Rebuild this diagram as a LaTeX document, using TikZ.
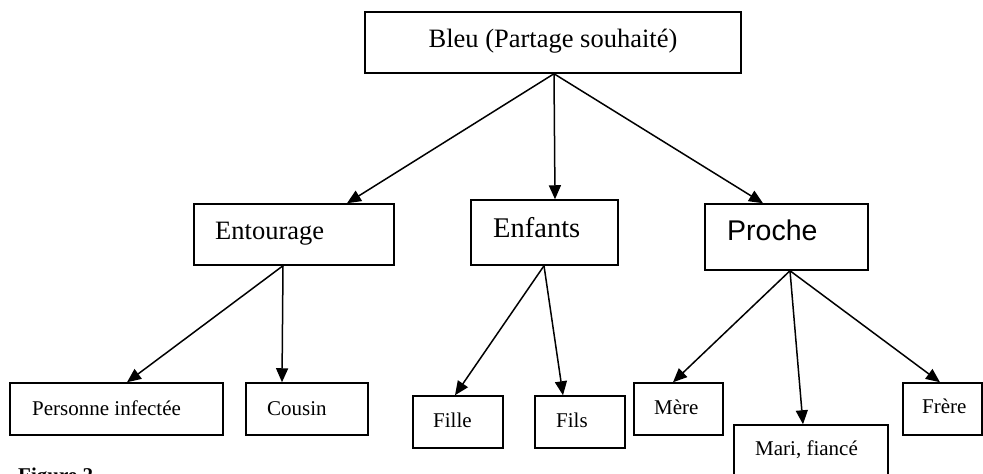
\documentclass[tikz,border=0pt]{standalone}
\usepackage{fontspec}
\setmainfont{Liberation Serif}
\newfontfamily\arialfont{Liberation Sans}
\usetikzlibrary{arrows.meta}
\tikzset{
  box/.style={draw=black, line width=1.5pt, fill=white, rectangle, inner sep=0pt},
  lblsmall/.style={anchor=base west, inner sep=0pt, font=\fontsize{21}{25}\selectfont},
  lblbig/.style={anchor=base west, inner sep=0pt, font=\fontsize{26.5}{31}\selectfont},
  lblhuge/.style={anchor=base west, inner sep=0pt, font=\fontsize{28.5}{33}\selectfont},
  arr/.style={line width=1.5pt, -{Triangle[length=14pt,width=12pt]}},
}
\begin{document}
\begin{tikzpicture}[x=1pt,y=-1pt]
\useasboundingbox (0,0) rectangle (983,474);
\clip (0,0) rectangle (983,474);
\fill[white] (0,0) rectangle (983,474);
% top box
\node[box, minimum width=376pt, minimum height=61pt] (bleu) at (553,42.5) {};
\node[anchor=base, inner sep=0pt, font=\fontsize{26.5}{31}\selectfont] (bleut) at (553,47) {Bleu (Partage souhaité)};
% middle boxes
\node[box, minimum width=200pt, minimum height=61pt] (ent) at (294,234.5) {};
\node[lblbig] (entt) at (215,239) {Entourage};
\node[box, minimum width=147pt, minimum height=65pt] (enf) at (544.5,232.5) {};
\node[lblhuge] (enft) at (493,237) {Enfants};
\node[box, minimum width=163pt, minimum height=66pt] (pro) at (786.5,237) {};
\node[lblhuge, font=\arialfont\fontsize{28.5}{33}\selectfont] (prot) at (727,240) {Proche};
% bottom boxes
\node[box, minimum width=213pt, minimum height=52pt] (per) at (116.5,409) {};
\node[lblsmall] (pert) at (32,415) {Personne infectée};
\node[box, minimum width=122pt, minimum height=52pt] (cou) at (307,409) {};
\node[lblsmall] (cout) at (267,415) {Cousin};
\node[box, minimum width=90pt, minimum height=52pt] (fil) at (458,422) {};
\node[lblsmall] (filt) at (433,427) {Fille};
\node[box, minimum width=90pt, minimum height=52pt] (fis) at (580,422) {};
\node[lblsmall] (fist) at (556,427) {Fils};
\node[box, minimum width=89pt, minimum height=52pt] (mer) at (678.5,409) {};
\node[lblsmall] (mert) at (654,414) {Mère};
\node[box, minimum width=154pt, minimum height=60pt] (mar) at (811,455) {};
\node[lblsmall] (mart) at (755,455) {Mari, fiancé};
\node[box, minimum width=79pt, minimum height=52pt] (fre) at (942.5,409) {};
\node[lblsmall] (fret) at (922,413) {Frère};
% caption (cut off)
\node[anchor=base west, inner sep=0pt, font=\bfseries\fontsize{21}{25}\selectfont] (fig) at (18,482) {Figure 2};
% connectors
\draw[arr] ([xshift=1pt]bleu.south) -- ([xshift=53pt]ent.north);
\draw[arr] ([xshift=1pt]bleu.south) -- ([xshift=10.5pt]enf.north);
\draw[arr] ([xshift=1pt]bleu.south) -- ([xshift=-23.5pt]pro.north);
\draw[arr] ([xshift=-11pt]ent.south) -- ([xshift=10.5pt]per.north);
\draw[arr] ([xshift=-11pt]ent.south) -- ([xshift=-25pt]cou.north);
\draw[arr] ([xshift=-0.5pt]enf.south) -- ([xshift=-3pt]fil.north);
\draw[arr] ([xshift=-0.5pt]enf.south) -- ([xshift=-17pt]fis.north);
\draw[arr] ([xshift=3.5pt]pro.south) -- ([xshift=-5.5pt]mer.north);
\draw[arr] ([xshift=3.5pt]pro.south) -- ([xshift=-8pt]mar.north);
\draw[arr] ([xshift=3.5pt]pro.south) -- ([xshift=-2.5pt]fre.north);
\end{tikzpicture}
\end{document}
